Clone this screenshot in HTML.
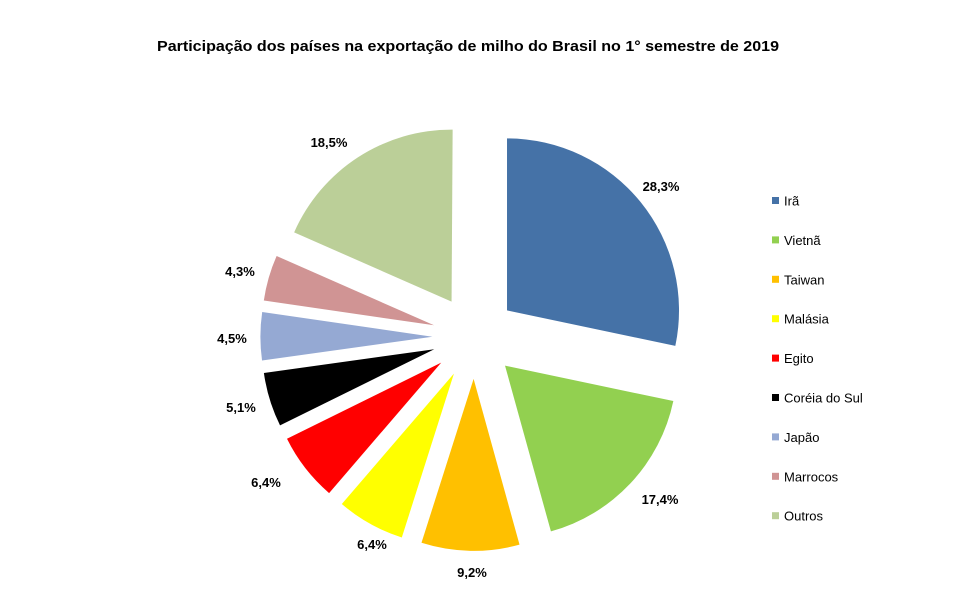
<!DOCTYPE html>
<html><head><meta charset="utf-8"><style>
html,body{margin:0;padding:0;background:#fff;}
svg{display:block;font-family:"Liberation Sans",sans-serif;}
</style></head><body>
<svg id="s" width="961" height="594" viewBox="0 0 961 594">
<rect width="961" height="594" fill="#fff"/>
<text x="468" y="51" text-anchor="middle" font-size="15" font-weight="bold" fill="#000" textLength="622" lengthAdjust="spacingAndGlyphs">Participação dos países na exportação de milho do Brasil no 1° semestre de 2019</text>
<g id="pie"></g>
<g font-size="13" font-weight="bold" fill="#000" text-anchor="middle">
<text x="661" y="191">28,3%</text>
<text x="660" y="504">17,4%</text>
<text x="472" y="577">9,2%</text>
<text x="372" y="549">6,4%</text>
<text x="266" y="487">6,4%</text>
<text x="241" y="412">5,1%</text>
<text x="232" y="343">4,5%</text>
<text x="240" y="276">4,3%</text>
<text x="329" y="147">18,5%</text>
</g>
<g id="leg" font-size="13" fill="#000"></g>
</svg>
<script>
var data=[[28.3,"#4572A7","Irã"],[17.4,"#92D050","Vietnã"],[9.2,"#FFC000","Taiwan"],[6.4,"#FFFF00","Malásia"],[6.4,"#FF0000","Egito"],[5.1,"#000000","Coréia do Sul"],[4.5,"#95A9D3","Japão"],[4.3,"#D09494","Marrocos"],[18.5,"#BBCF98","Outros"]];
var cx=474.4,cy=336.9,r=172,d=42,a=0,tot=100,ns="http://www.w3.org/2000/svg";
var pie=document.getElementById("pie"),leg=document.getElementById("leg");
function pt(x,y,ang,rr){var t=ang*Math.PI/180;return [x+rr*Math.sin(t),y-rr*Math.cos(t)];}
data.forEach(function(s,i){
 var sw=s[0]/tot*360,a1=a+sw,m=a+sw/2;
 var c=pt(cx,cy,m,d),p1=pt(c[0],c[1],a,r),p2=pt(c[0],c[1],a1,r);
 var p=document.createElementNS(ns,"path");
 p.setAttribute("d","M"+c[0]+","+c[1]+"L"+p1[0]+","+p1[1]+"A"+r+","+r+" 0 "+(sw>180?1:0)+" 1 "+p2[0]+","+p2[1]+"Z");
 p.setAttribute("fill",s[1]);pie.appendChild(p);
 a=a1;
 var y=201+i*39.4;
 var q=document.createElementNS(ns,"rect");q.setAttribute("x",772);q.setAttribute("y",y-4);q.setAttribute("width",7);q.setAttribute("height",7);q.setAttribute("fill",s[1]);leg.appendChild(q);
 var t=document.createElementNS(ns,"text");t.setAttribute("x",784);t.setAttribute("y",y+4.5);t.textContent=s[2];leg.appendChild(t);
});
</script>
</body></html>
